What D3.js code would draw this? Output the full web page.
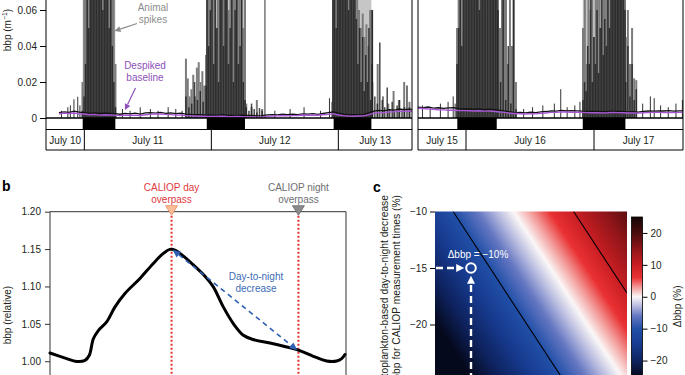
<!DOCTYPE html>
<html><head><meta charset="utf-8">
<script src="https://cdn.jsdelivr.net/npm/d3@7"></script>
<style>
body{margin:0;background:#fff}
svg{display:block}
text{font-family:"Liberation Sans",Arial,Helvetica,sans-serif}
</style>
</head><body>
<svg id="chart" width="685" height="375"></svg>
<script>
// ================= DATA =================
// ---- panel a ----
const aYTicks = [0, 0.02, 0.04, 0.06];
const leftDomain = [10.698, 13.58];
const rightDomain = [15.625, 17.695];
const leftDayStarts = [11, 12, 13];
const rightDayStarts = [16, 17];
const leftDateLabels = ["July 10", "July 11", "July 12", "July 13"];
const rightDateLabels = ["July 15", "July 16", "July 17"];
const nightsLeft = [[10.987, 11.244], [11.964, 12.265], [12.963, 13.26]];
const nightsRight = [[15.932, 16.24], [16.912, 17.245]];

const rawStep = 0.04;
const rawLeftStart = 10.80;
const rawLeft = [0.0030,0.0034,0.0031,0.0038,0.0033,0.0030,0.0026,0.0028,0.0025,0.0027,
  0.0026,0.0024,0.0021,0.0026,0.0023,0.0027,0.0022,0.0028,0.0030,0.0027,
  0.0031,0.0026,0.0028,0.0024,0.0027,0.0022,0.0020,0.0019,0.0018,0.0016,
  0.0017,0.0015,0.0018,0.0016,0.0015,0.0014,0.0016,0.0014,0.0015,0.0012,
  0.0013,0.0017,0.0019,0.0017,0.0021,0.0018,0.0022,0.0019,0.0023,0.0021,
  0.0024,0.0020,0.0025,0.0030,0.0034,0.0027,0.0021,0.0019,0.0018,0.0019,
  0.0020,0.0028,0.0038,0.0042,0.0040,0.0046,0.0044,0.0050,0.0047,0.0049,0.0045];
const baseLeft = [0.0024,0.0027,0.0025,0.0028,0.0024,0.0022,0.0018,0.0020,0.0016,0.0018,
  0.0017,0.0016,0.0013,0.0016,0.0015,0.0016,0.0014,0.0018,0.0020,0.0023,
  0.0022,0.0020,0.0019,0.0016,0.0017,0.0013,0.0012,0.0010,0.0010,0.0008,
  0.0009,0.0008,0.0010,0.0008,0.0007,0.0008,0.0007,0.0006,0.0006,0.0005,
  0.0006,0.0009,0.0011,0.0012,0.0014,0.0012,0.0013,0.0014,0.0017,0.0015,
  0.0016,0.0015,0.0018,0.0020,0.0024,0.0017,0.0013,0.0011,0.0010,0.0011,
  0.0012,0.0019,0.0027,0.0030,0.0030,0.0034,0.0035,0.0038,0.0037,0.0039,0.0036];
const rawRightStart = 15.625;
const rawRight = [0.0060,0.0058,0.0061,0.0055,0.0057,0.0053,0.0056,0.0058,0.0052,0.0050,
  0.0051,0.0049,0.0050,0.0047,0.0049,0.0046,0.0042,0.0038,0.0034,0.0030,
  0.0031,0.0029,0.0032,0.0030,0.0034,0.0036,0.0040,0.0038,0.0042,0.0039,
  0.0041,0.0040,0.0038,0.0037,0.0036,0.0037,0.0035,0.0036,0.0038,0.0037,
  0.0036,0.0034,0.0035,0.0033,0.0037,0.0039,0.0038,0.0040,0.0039,0.0041,
  0.0038,0.0040,0.0039];
const baseRight = [0.0054,0.0053,0.0050,0.0049,0.0046,0.0045,0.0043,0.0043,0.0041,0.0041,
  0.0040,0.0039,0.0040,0.0038,0.0039,0.0036,0.0033,0.0031,0.0026,0.0025,
  0.0024,0.0022,0.0024,0.0023,0.0026,0.0028,0.0031,0.0032,0.0034,0.0033,
  0.0032,0.0032,0.0031,0.0030,0.0029,0.0030,0.0028,0.0029,0.0031,0.0030,
  0.0029,0.0028,0.0028,0.0027,0.0029,0.0030,0.0031,0.0031,0.0030,0.0031,
  0.0030,0.0031,0.0032];

// spike bursts (evenly spaced within span), values in m^-1
const spanL1 = [10.985, 11.245];
const darkL1 = [0.004,0.012,0.03,0.09,0.05,0.09,0.09,0.07,0.09,0.09,0.08,0.09,0.09,0.06,0.09,0.09,0.09,0.05,0.09,0.04,0.02,0.006];
const lightL1 = [0.02,0.09,0.09,0.07,0.09,0.09,0.09,0.09,0.09,0.09,0.09,0.09,0.09,0.09,0.09,0.09,0.09,0.08,0.09,0.03];
const spanL2a = [11.80, 11.958];
const darkL2a = [0.012,0.006,0.008,0.02,0.01,0.015,0.009,0.018];
const lightL2a = [0.033,0.022,0.012,0.016,0.024,0.012,0.028,0.031,0.02,0.026,0.018,0.035];
const spanL2 = [11.966, 12.265];
const darkL2 = [0.09,0.04,0.06,0.09,0.03,0.09,0.05,0.02,0.09,0.09,0.04,0.09,0.07,0.03,0.05,0.09,0.02,0.06,0.09,0.03,0.04,0.09,0.02,0.01];
const lightL2 = [0.09,0.09,0.07,0.09,0.09,0.05,0.09,0.09,0.09,0.08,0.09,0.09,0.06,0.09,0.09,0.09,0.09,0.07,0.09,0.09,0.05,0.09];
const spanL2b = [12.275, 12.40];
const darkL2b = [0.006,0.004,0.008,0.005,0.003,0.0055,0.004];
const lightL2b = [0.008,0.006,0.01,0.005];
const spanL3 = [12.958, 13.265];
const darkL3 = [0.09,0.09,0.05,0.09,0.09,0.09,0.07,0.09,0.09,0.09,0.06,0.09,0.09,0.08,0.09,0.055,0.03,0.05,0.02,0.045,0.015,0.035,0.02,0.05,0.01,0.06];
const lightL3 = [0.09,0.09,0.09,0.09,0.09,0.09,0.09,0.09,0.09,0.09,0.09,0.09,0.09,0.09,0.06,0.05,0.058,0.045,0.052,0.04,0.06,0.03];
const spanL3b = [13.268, 13.56];
const darkL3b = [0.06,0.012,0.008,0.042,0.01,0.006,0.017,0.005,0.009,0.004,0.007,0.01,0.005,0.006,0.018,0.006];
const lightL3b = [0.02,0.03,0.012,0.008,0.015,0.01,0.02,0.009];
const spanR1 = [15.93, 16.242];
const darkR1 = [0.03,0.05,0.09,0.04,0.09,0.09,0.07,0.09,0.09,0.09,0.08,0.09,0.09,0.09,0.06,0.09,0.09,0.09,0.09,0.07,0.09,0.09,0.09,0.08,0.09,0.09];
const lightR1 = [0.05,0.09,0.09,0.09,0.09,0.09,0.09,0.09,0.09,0.09,0.09,0.09,0.09,0.09,0.09,0.09,0.09,0.09,0.09,0.09,0.09,0.09];
const spanR1b = [16.25, 16.39];
const darkR1b = [0.06,0.02,0.09,0.01,0.04,0.008,0.09,0.005];
const lightR1b = [0.09,0.05,0.09,0.07,0.09,0.03,0.09,0.04,0.09,0.02];
const spanR2 = [16.914, 17.242];
const darkR2 = [0.01,0.02,0.015,0.04,0.03,0.09,0.02,0.045,0.03,0.06,0.025,0.05,0.09,0.035,0.055,0.04,0.09,0.05,0.09,0.09,0.07,0.09,0.09,0.09,0.08,0.09,0.09,0.06];
const lightR2 = [0.05,0.09,0.03,0.09,0.06,0.09,0.045,0.09,0.07,0.09,0.05,0.09,0.09,0.09,0.08,0.09,0.09,0.09,0.09,0.09,0.09,0.09,0.09,0.09];
const spanR2b = [17.248, 17.33];
const darkR2b = [0.02,0.04,0.012,0.03,0.01,0.016];
const lightR2b = [0.045,0.06,0.03,0.05,0.022,0.021];

const minorLeft = [[10.82,0.004],[10.87,0.006],[10.89,0.007],[10.918,0.0104],[10.948,0.0118],[10.965,0.007],
  [11.30,0.005],[11.36,0.004],[11.44,0.006],[11.52,0.005],[11.58,0.004],[11.66,0.006],[11.72,0.005],[11.77,0.004],
  [12.422,0.09],[12.50,0.004],[12.62,0.005],[12.73,0.006],[12.86,0.004],[12.93,0.011],[12.95,0.009]];
const minorRight = [[15.66,0.007],[15.72,0.006],[15.80,0.008],[15.86,0.009],[15.90,0.012],[15.915,0.008],
  [16.45,0.005],[16.52,0.006],[16.60,0.007],[16.69,0.008],[16.74,0.016],[16.79,0.006],[16.85,0.007],[16.89,0.009],
  [17.38,0.008],[17.44,0.012],[17.47,0.011],[17.52,0.007],[17.58,0.006],[17.64,0.008],[17.69,0.010]];

// ---- panel b ----
const bHours = [0,1.58,2.37,3.31,3.72,4.10,4.57,5.36,6.15,7.09,8.51,9.77,10.72,11.35,11.82,12.30,13.24,14.66,15.45,16.39,17.34,18.29,19.23,20.81,22.39,23.55,24.91,26.17,27.12,27.59,27.9];
const bValues = [1.011,1.0035,1.0,1.0012,1.008,1.030,1.041,1.0525,1.0727,1.0906,1.1107,1.1308,1.1442,1.1496,1.1487,1.1442,1.133,1.1138,1.0995,1.0727,1.0504,1.0347,1.029,1.0244,1.019,1.0146,1.0066,1.0003,1.0003,1.0035,1.009];
const bYTicks = [1.00, 1.05, 1.10, 1.15, 1.20];
const overpassHours = [11.5, 23.5];

// ---- panel c ----
const cX = [0, 25, 50, 75, 100];
const cY = [-10, -15, -20, -25];
const cGrid = [
  [-13.0, -5.05, 2.9, 10.9, 18.8],
  [-19.1, -11.2, -3.2, 4.7, 12.7],
  [-25.2, -17.3, -9.3, -1.3, 6.6],
  [-31.4, -23.4, -15.5, -7.5, 0.4]
];
const cContourLevels = [-10, 10];
const cYTicks = [-10, -15, -20];
const cbTicks = [20, 10, 0, -10, -20];
const cMarker = [18.75, -15];
const cbStops = [-25, -20, -15, -10, -6, -3, 0, 3, 6, 10, 15, 20, 25];
const cbColors = ["#05091c","#0e2360","#173a8e","#2150a8","#6577c2","#b5b9df","#fbf7f7","#f29a98","#ea3133","#c81e23","#8f1519","#4a0c0e","#150606"];

// ================= DRAW =================
const svg = d3.select("#chart");
const TXT = "#231f20";

function arrow(g, x1, y1, x2, y2, o) {
  const color = o.color, w = o.width || 1, head = o.head || 6, half = o.half || 3;
  const dx = x2 - x1, dy = y2 - y1, L = Math.hypot(dx, dy), ux = dx / L, uy = dy / L;
  const bx = x2 - ux * head, by = y2 - uy * head;
  g.append("line").attr("x1", x1).attr("y1", y1).attr("x2", bx).attr("y2", by)
    .attr("stroke", color).attr("stroke-width", w).attr("stroke-dasharray", o.dash || null);
  g.append("path").attr("d", `M${x2},${y2}L${bx - uy * half},${by + ux * half}L${bx + uy * half},${by - ux * half}Z`)
    .attr("fill", color);
}

// ---------- panel a ----------
const yA = d3.scaleLinear().domain([0, 0.06]).range([118, 10]);
const aBottom = 118, stripBottom = 129.5, boxBottom = 150;

function drawA(id, x, nights, dayStarts, labels, rawStart, raw, base, bursts, minors, withAxis) {
  const g = svg.append("g");
  const [x0, x1] = x.range();
  const clipId = "clip" + id;
  svg.append("clipPath").attr("id", clipId).append("rect")
    .attr("x", x0).attr("y", -5).attr("width", x1 - x0).attr("height", aBottom + 5);
  const pg = g.append("g").attr("clip-path", `url(#${clipId})`);
  pg.selectAll(".band").data(nights).join("rect")
    .attr("x", d => x(d[0])).attr("width", d => x(d[1]) - x(d[0]))
    .attr("y", -5).attr("height", aBottom + 5).attr("fill", "#c6c6c6");
  const spikes = (arr, span) => arr.map((v, i) => [span[0] + i * (span[1] - span[0]) / (arr.length - 1), v]);
  const lights = bursts.flatMap(b => spikes(b[2], b[0]));
  const darks = bursts.flatMap(b => spikes(b[1], b[0]));
  pg.selectAll(".ls").data(lights).join("line")
    .attr("x1", d => x(d[0])).attr("x2", d => x(d[0]))
    .attr("y1", yA(0)).attr("y2", d => yA(d[1]))
    .attr("stroke", "#7c7c7c").attr("stroke-width", 2);
  pg.selectAll(".ds").data(darks).join("line")
    .attr("x1", d => x(d[0])).attr("x2", d => x(d[0]))
    .attr("y1", yA(0)).attr("y2", d => yA(d[1]))
    .attr("stroke", "#1a1a1a").attr("stroke-opacity", 0.8).attr("stroke-width", 1.5);
  pg.selectAll(".ms").data(minors).join("line")
    .attr("x1", d => x(d[0])).attr("x2", d => x(d[0]))
    .attr("y1", yA(0)).attr("y2", d => yA(d[1]))
    .attr("stroke", "#333").attr("stroke-width", 1);
  const rawPts = raw.map((v, i) => [rawStart + i * rawStep, v]);
  const basePts = base.map((v, i) => [rawStart + i * rawStep, v]);
  const line = d3.line().x(d => x(d[0])).y(d => yA(d[1]));
  pg.append("path").attr("d", line(rawPts)).attr("fill", "none").attr("stroke", "#111").attr("stroke-width", 1.3);
  pg.append("path").attr("d", line(basePts)).attr("fill", "none").attr("stroke", "#a957d6").attr("stroke-width", 1.4);

  g.selectAll(".night").data(nights).join("rect")
    .attr("x", d => x(d[0])).attr("width", d => x(d[1]) - x(d[0]))
    .attr("y", aBottom).attr("height", stripBottom - aBottom).attr("fill", "#000");
  g.append("line").attr("x1", x0).attr("x2", x1).attr("y1", aBottom).attr("y2", aBottom).attr("stroke", "#000").attr("stroke-width", 1.6);
  g.append("line").attr("x1", x0).attr("x2", x1).attr("y1", stripBottom).attr("y2", stripBottom).attr("stroke", "#000").attr("stroke-width", 1);
  g.append("line").attr("x1", x0).attr("x2", x1).attr("y1", boxBottom).attr("y2", boxBottom).attr("stroke", "#000").attr("stroke-width", 1);
  g.selectAll(".sep").data(dayStarts).join("line")
    .attr("x1", d => x(d)).attr("x2", d => x(d)).attr("y1", stripBottom).attr("y2", boxBottom)
    .attr("stroke", "#000").attr("stroke-width", 1);
  [x0, x1].forEach(xx => g.append("line").attr("x1", xx).attr("x2", xx).attr("y1", 0).attr("y2", boxBottom)
    .attr("stroke", "#000").attr("stroke-width", 1));
  const bounds = [x.domain()[0], ...dayStarts, x.domain()[1]];
  g.selectAll(".dl").data(labels).join("text")
    .attr("x", (d, i) => (x(bounds[i]) + x(bounds[i + 1])) / 2).attr("y", 144)
    .attr("text-anchor", "middle").attr("font-size", 10).attr("fill", TXT).text(d => d);

  if (withAxis) {
    const ax = g.append("g").attr("transform", `translate(${x0},0)`)
      .call(d3.axisLeft(yA).tickValues(aYTicks).tickSize(6).tickPadding(3)
        .tickFormat(d => d === 0 ? "0" : d3.format(".2f")(d)));
    ax.select(".domain").remove();
    ax.selectAll("text").attr("font-size", 10).attr("fill", TXT).attr("font-family", '"Liberation Sans",Arial,sans-serif');
    ax.selectAll("line").attr("stroke", "#000");
  }
}

const xL = d3.scaleLinear().domain(leftDomain).range([46, 412]);
const xR = d3.scaleLinear().domain(rightDomain).range([418, 683]);
drawA("L", xL, nightsLeft, leftDayStarts, leftDateLabels, rawLeftStart, rawLeft, baseLeft,
  [[spanL1, darkL1, lightL1], [spanL2a, darkL2a, lightL2a], [spanL2, darkL2, lightL2], [spanL2b, darkL2b, lightL2b],
   [spanL3, darkL3, lightL3], [spanL3b, darkL3b, lightL3b]], minorLeft, true);
drawA("R", xR, nightsRight, rightDayStarts, rightDateLabels, rawRightStart, rawRight, baseRight,
  [[spanR1, darkR1, lightR1], [spanR1b, darkR1b, lightR1b], [spanR2, darkR2, lightR2], [spanR2b, darkR2b, lightR2b]], minorRight, false);

const yla = svg.append("text").attr("transform", "translate(11,30) rotate(-90)")
  .attr("text-anchor", "middle").attr("font-size", 10).attr("fill", TXT);
yla.append("tspan").text("bbp (m");
yla.append("tspan").attr("dy", -4).attr("font-size", 7).text("−1");
yla.append("tspan").attr("dy", 4).text(")");

const ann = svg.append("g");
ann.append("text").attr("x", 153).attr("y", 11).attr("text-anchor", "middle").attr("font-size", 10).attr("fill", "#8d8d8d").text("Animal");
ann.append("text").attr("x", 153).attr("y", 23).attr("text-anchor", "middle").attr("font-size", 10).attr("fill", "#8d8d8d").text("spikes");
arrow(ann, 137, 23.5, 114.5, 31, {color: "#8d8d8d", width: 1.2, head: 6, half: 3});
ann.append("text").attr("x", 145).attr("y", 69).attr("text-anchor", "middle").attr("font-size", 10).attr("fill", "#8e50b8").text("Despiked");
ann.append("text").attr("x", 145).attr("y", 81).attr("text-anchor", "middle").attr("font-size", 10).attr("fill", "#8e50b8").text("baseline");
arrow(ann, 135.5, 88, 125, 110, {color: "#8e50b8", width: 1.2, head: 6, half: 3});

// ---------- panel b ----------
const xB = d3.scaleLinear().domain([0, 28]).range([50, 346]);
const yB = d3.scaleLinear().domain([0.95, 1.20]).range([398.6, 211.7]);
const gb = svg.append("g");
gb.append("text").attr("x", 2).attr("y", 191).attr("font-size", 14).attr("font-weight", "bold").attr("fill", "#000").text("b");
gb.append("line").attr("x1", 50).attr("x2", 346).attr("y1", yB(1.2)).attr("y2", yB(1.2)).attr("stroke", "#333").attr("stroke-width", 1);
gb.append("line").attr("x1", 346).attr("x2", 346).attr("y1", yB(1.2)).attr("y2", 380).attr("stroke", "#333").attr("stroke-width", 1);
gb.append("line").attr("x1", 50).attr("x2", 50).attr("y1", yB(1.2)).attr("y2", 380).attr("stroke", "#333").attr("stroke-width", 1);
const axb = gb.append("g").attr("transform", "translate(50,0)")
  .call(d3.axisLeft(yB).tickValues(bYTicks).tickSize(5).tickPadding(4).tickFormat(d3.format(".2f")));
axb.select(".domain").remove();
axb.selectAll("text").attr("font-size", 10).attr("fill", TXT).attr("font-family", '"Liberation Sans",Arial,sans-serif');
axb.selectAll("line").attr("stroke", "#333");
gb.append("text").attr("transform", `translate(11,${(yB(1.0) + yB(1.15)) / 2 + 10}) rotate(-90)`)
  .attr("text-anchor", "middle").attr("font-size", 10).attr("fill", TXT).text("bbp (relative)");
gb.selectAll(".op").data(overpassHours).join("line")
  .attr("x1", d => xB(d)).attr("x2", d => xB(d)).attr("y1", yB(1.2)).attr("y2", 380)
  .attr("stroke", "#e8302c").attr("stroke-width", 2).attr("stroke-dasharray", "2,2");
const bPts = bHours.map((h, i) => [h, bValues[i]]);
gb.append("path").attr("d", d3.line().x(d => xB(d[0])).y(d => yB(d[1])).curve(d3.curveCatmullRom.alpha(0.5))(bPts))
  .attr("fill", "none").attr("stroke", "#000").attr("stroke-width", 3).attr("stroke-linecap", "round");
const triTop = yB(1.2) - 6, triTip = yB(1.2) + 3.5;
[[overpassHours[0], "#fbbd96", "#e98a66"], [overpassHours[1], "#8a8a8a", "#6a6a6a"]].forEach(([h, f, s]) => {
  const cx = xB(h);
  gb.append("path").attr("d", `M${cx - 6},${triTop}L${cx + 6},${triTop}L${cx},${triTip}Z`)
    .attr("fill", f).attr("stroke", s).attr("stroke-width", 0.8);
});
gb.append("text").attr("x", xB(overpassHours[0])).attr("y", 190.5).attr("text-anchor", "middle").attr("font-size", 10).attr("fill", "#e0393e").text("CALIOP day");
gb.append("text").attr("x", xB(overpassHours[0])).attr("y", 203).attr("text-anchor", "middle").attr("font-size", 10).attr("fill", "#e0393e").text("overpass");
gb.append("text").attr("x", xB(overpassHours[1])).attr("y", 190.5).attr("text-anchor", "middle").attr("font-size", 10).attr("fill", "#6d6e71").text("CALIOP night");
gb.append("text").attr("x", xB(overpassHours[1])).attr("y", 203).attr("text-anchor", "middle").attr("font-size", 10).attr("fill", "#6d6e71").text("overpass");
{
  const ax1 = xB(overpassHours[0]) + 1, ay1 = yB(1.1492), ax2 = xB(overpassHours[1]) - 1, ay2 = yB(1.0146);
  const dx = ax2 - ax1, dy = ay2 - ay1, L = Math.hypot(dx, dy), ux = dx / L, uy = dy / L;
  const head = 8, half = 3.5, col = "#2c5fb3";
  gb.append("line").attr("x1", ax1 + ux * head).attr("y1", ay1 + uy * head).attr("x2", ax2 - ux * head).attr("y2", ay2 - uy * head)
    .attr("stroke", col).attr("stroke-width", 1.6).attr("stroke-dasharray", "5,4");
  const hd = (tx, ty, s) => {
    const bx = tx - s * ux * head, by = ty - s * uy * head;
    gb.append("path").attr("d", `M${tx},${ty}L${bx - uy * half},${by + ux * half}L${bx + uy * half},${by - ux * half}Z`).attr("fill", col);
  };
  hd(ax2, ay2, 1); hd(ax1, ay1, -1);
}
gb.append("text").attr("x", 256).attr("y", 280).attr("text-anchor", "middle").attr("font-size", 10).attr("fill", "#3c6cb6").text("Day-to-night");
gb.append("text").attr("x", 256).attr("y", 292).attr("text-anchor", "middle").attr("font-size", 10).attr("fill", "#3c6cb6").text("decrease");

// ---------- panel c ----------
const xC = d3.scaleLinear().domain([0, 100]).range([435, 627]);
const yC = d3.scaleLinear().domain([-10, -25]).range([211.5, 381]);
const color = d3.scaleLinear().domain(cbStops).range(cbColors).clamp(true).interpolate(d3.interpolateRgb);
const gc = svg.append("g");
gc.append("text").attr("x", 373).attr("y", 191.5).attr("font-size", 14).attr("font-weight", "bold").attr("fill", "#000").text("c");

const ixC = d3.scaleLinear().domain(cX).range(d3.range(cX.length)).clamp(true);
const iyC = d3.scaleLinear().domain(cY).range(d3.range(cY.length)).clamp(true);
function fieldAt(X, Y) {
  const fx = ixC(X), fy = iyC(Y);
  const i = Math.min(Math.floor(fx), cX.length - 2), j = Math.min(Math.floor(fy), cY.length - 2);
  const tx = fx - i, ty = fy - j;
  const a = cGrid[j][i], b = cGrid[j][i + 1], c = cGrid[j + 1][i], d = cGrid[j + 1][i + 1];
  return (a * (1 - tx) + b * tx) * (1 - ty) + (c * (1 - tx) + d * tx) * ty;
}
{
  const [px0, px1] = xC.range(), [py0, py1] = yC.range();
  const W = Math.round(px1 - px0), H = Math.round(py1 - py0);
  const cv = document.createElement("canvas"); cv.width = W; cv.height = H;
  const ctx = cv.getContext("2d"); const img = ctx.createImageData(W, H);
  for (let r = 0; r < H; r++) for (let q = 0; q < W; q++) {
    const v = fieldAt(xC.invert(px0 + q + 0.5), yC.invert(py0 + r + 0.5));
    const c = d3.rgb(color(v)); const k = 4 * (r * W + q);
    img.data[k] = c.r; img.data[k + 1] = c.g; img.data[k + 2] = c.b; img.data[k + 3] = 255;
  }
  ctx.putImageData(img, 0, 0);
  gc.append("image").attr("x", px0).attr("y", py0).attr("width", W).attr("height", H)
    .attr("preserveAspectRatio", "none").attr("href", cv.toDataURL());
}
svg.append("clipPath").attr("id", "clipC").append("rect").attr("x", 435).attr("y", 211.5).attr("width", 192).attr("height", 170);
cContourLevels.forEach(level => {
  const pts = [];
  for (let j = 0; j < cY.length; j++) for (let i = 0; i < cX.length - 1; i++) {
    const a = cGrid[j][i], b = cGrid[j][i + 1];
    if ((a - level) * (b - level) <= 0 && a !== b) pts.push([cX[i] + (level - a) / (b - a) * (cX[i + 1] - cX[i]), cY[j]]);
  }
  for (let i = 0; i < cX.length; i++) for (let j = 0; j < cY.length - 1; j++) {
    const a = cGrid[j][i], b = cGrid[j + 1][i];
    if ((a - level) * (b - level) <= 0 && a !== b) pts.push([cX[i], cY[j] + (level - a) / (b - a) * (cY[j + 1] - cY[j])]);
  }
  pts.sort((p, q) => q[1] - p[1] || p[0] - q[0]);
  gc.append("path").attr("clip-path", "url(#clipC)")
    .attr("d", d3.line().x(d => xC(d[0])).y(d => yC(d[1]))([pts[0], pts[pts.length - 1]]))
    .attr("fill", "none").attr("stroke", "#000").attr("stroke-width", 1.1);
});
const axc = gc.append("g").attr("transform", "translate(435,0)")
  .call(d3.axisLeft(yC).tickValues(cYTicks).tickSize(5).tickPadding(3));
axc.select(".domain").remove();
axc.selectAll("text").attr("font-size", 10).attr("fill", TXT).attr("font-family", '"Liberation Sans",Arial,sans-serif');
axc.selectAll("line").attr("stroke", "#000");
gc.append("text").attr("transform", "translate(388,195) rotate(-90)").attr("text-anchor", "end")
  .attr("font-size", 10.3).attr("fill", TXT).text("Phytoplankton-based day-to-night decrease");
gc.append("text").attr("transform", "translate(400,195) rotate(-90)").attr("text-anchor", "end")
  .attr("font-size", 10.3).attr("fill", TXT).text("in bbp for CALIOP measurement times (%)");
{
  const mx = xC(cMarker[0]), my = yC(cMarker[1]), r = 4.8;
  const wg = gc.append("g");
  arrow(wg, xC.range()[0] + 1, my, mx - r - 2, my, {color: "#fff", width: 2.4, head: 8, half: 4, dash: "7,4"});
  arrow(wg, mx, 380, mx, my + r + 3, {color: "#fff", width: 2.4, head: 8, half: 4, dash: "7,4"});
  wg.append("circle").attr("cx", mx).attr("cy", my).attr("r", r).attr("fill", "none").attr("stroke", "#fff").attr("stroke-width", 2);
  wg.append("text").attr("x", mx + 7).attr("y", my - 10).attr("text-anchor", "middle").attr("font-size", 10)
    .attr("fill", "#fff").text("Δbbp = −10%");
}
const yCB = d3.scaleLinear().domain([25, -25]).range([217, 376.5]);
{
  const defs = svg.append("defs");
  const lg = defs.append("linearGradient").attr("id", "cbg").attr("x1", 0).attr("x2", 0).attr("y1", 0).attr("y2", 1);
  const [t0, t1] = yCB.range();
  cbStops.slice().reverse().forEach(v => {
    lg.append("stop").attr("offset", (yCB(v) - t0) / (t1 - t0)).attr("stop-color", color(v));
  });
  gc.append("rect").attr("x", 631.5).attr("y", t0).attr("width", 11).attr("height", t1 - t0)
    .attr("fill", "url(#cbg)").attr("stroke", "#000").attr("stroke-width", 0.8);
  const axcb = gc.append("g").attr("transform", "translate(642.5,0)")
    .call(d3.axisRight(yCB).tickValues(cbTicks).tickSize(5).tickPadding(3));
  axcb.select(".domain").remove();
  axcb.selectAll("text").attr("font-size", 10).attr("fill", TXT).attr("font-family", '"Liberation Sans",Arial,sans-serif');
  axcb.selectAll("line").attr("stroke", "#000");
  gc.append("text").attr("transform", `translate(681,${yCB(-3)}) rotate(-90)`).attr("text-anchor", "middle")
    .attr("font-size", 10).attr("fill", TXT).text("Δbbp (%)");
}
</script>
</body></html>
